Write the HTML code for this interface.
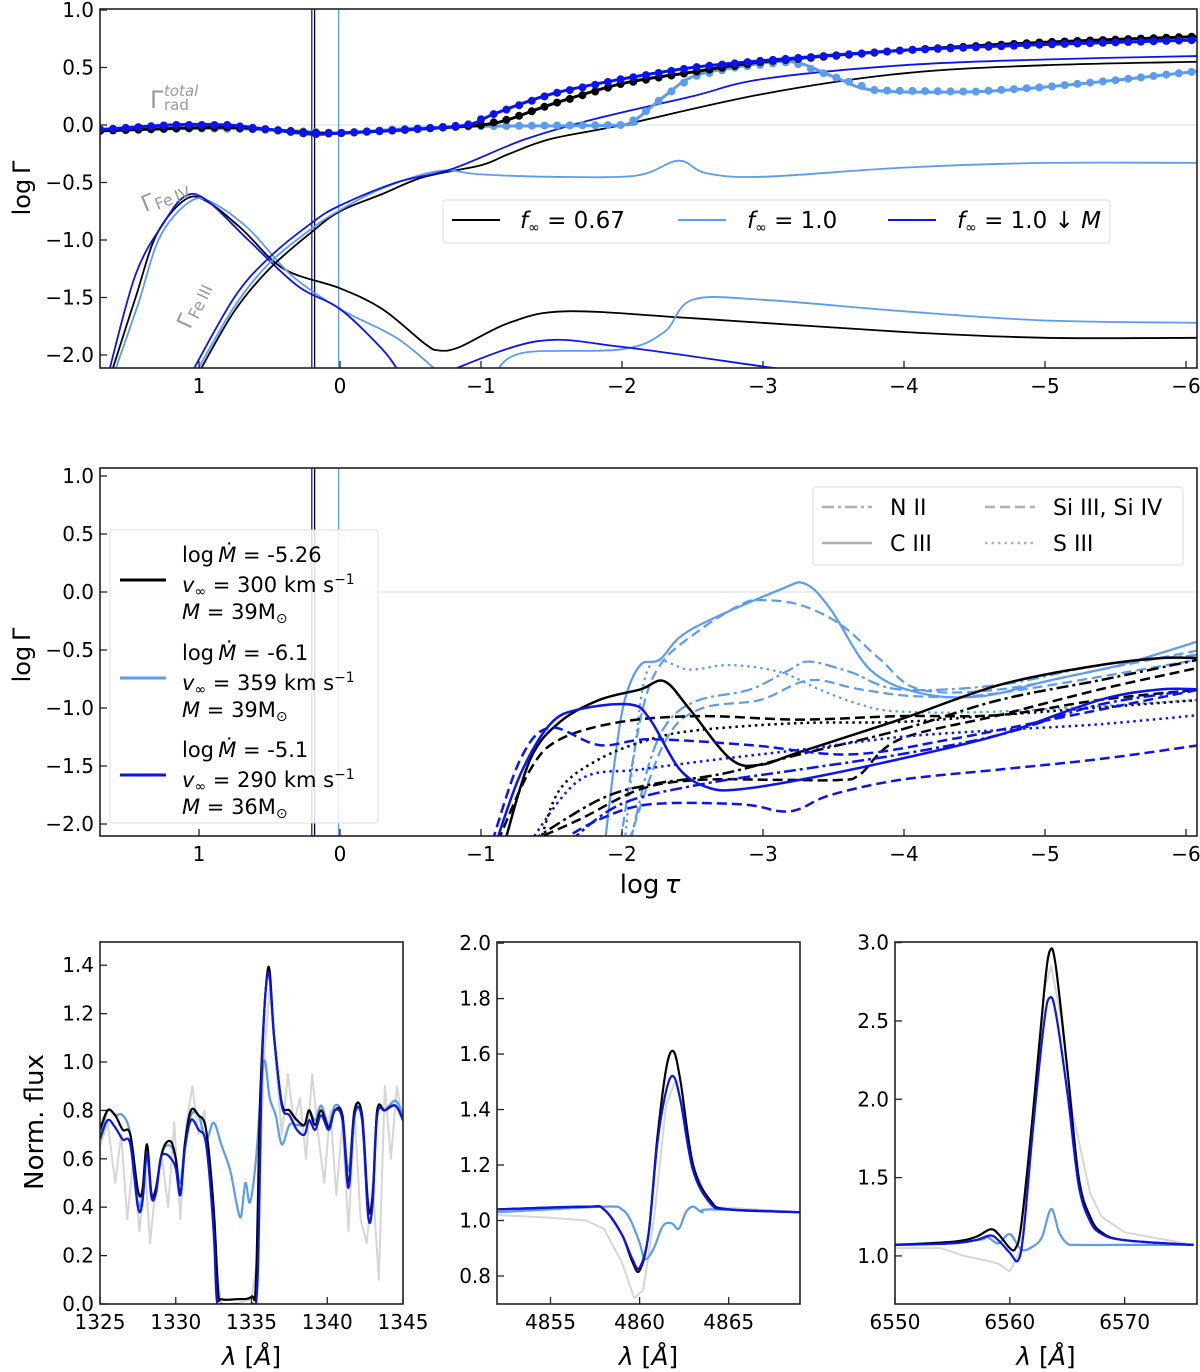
<!DOCTYPE html>
<html><head><meta charset="utf-8"><style>
html,body{margin:0;padding:0;background:#fff}
svg{display:block;font-family:"DejaVu Sans","Liberation Sans",sans-serif}
</style></head><body>
<svg id="fig" width="1200" height="1372" viewBox="0 0 1200 1372" xmlns="http://www.w3.org/2000/svg">
<defs>
<clipPath id="cTop"><rect x="100" y="9" width="1097" height="359"/></clipPath>
<clipPath id="cMid"><rect x="100" y="468" width="1097" height="368"/></clipPath>
<clipPath id="cB1"><rect x="100" y="942" width="303" height="362"/></clipPath>
<clipPath id="cB2"><rect x="497" y="942" width="303" height="362"/></clipPath>
<clipPath id="cB3"><rect x="895" y="942" width="302" height="362"/></clipPath>
</defs>
<g id="layer"></g>
</svg>
<script>
// ---------- data: top panel (log tau, log Gamma) ----------
const tauTicks = [1,0,-1,-2,-3,-4,-5,-6];
const gammaTicks = [1.0,0.5,0.0,-0.5,-1.0,-1.5,-2.0];
const totBlack = [[1.7,-0.05],[1.2,-0.03],[0.8,-0.02],[0.5,-0.04],[0.2,-0.07],[0,-0.07],[-0.5,-0.04],[-1,0.0],[-1.2,0.05],[-1.5,0.18],[-2,0.36],[-2.5,0.46],[-3,0.55],[-4,0.65],[-5,0.72],[-6.1,0.77]];
const totBlue = [[1.7,-0.04],[1.2,0.0],[0.8,0.0],[0.5,-0.04],[0.2,-0.08],[0,-0.07],[-0.5,-0.04],[-0.9,0.0],[-1.1,0.1],[-1.5,0.27],[-2,0.4],[-2.5,0.5],[-3,0.56],[-4,0.65],[-5,0.7],[-6.1,0.74]];
const totLight = [[1.7,-0.05],[1,-0.03],[0.5,-0.04],[0.2,-0.06],[0,-0.07],[-0.5,-0.03],[-1,-0.01],[-2,0.0],[-2.1,0.05],[-2.3,0.25],[-2.5,0.42],[-2.8,0.5],[-3.2,0.55],[-3.5,0.42],[-3.8,0.3],[-4.5,0.29],[-5,0.33],[-5.5,0.39],[-6.1,0.47]];
const fe4Black = [[1.62,-2.15],[1.45,-1.5],[1.3,-0.95],[1.1,-0.65],[0.95,-0.66],[0.7,-0.9],[0.4,-1.25],[0.0,-1.42],[-0.3,-1.6],[-0.6,-1.9],[-0.7,-1.96],[-0.85,-1.93],[-1.2,-1.72],[-1.6,-1.62],[-2.5,-1.68],[-4,-1.8],[-5,-1.85],[-6.1,-1.85]];
const fe4Light = [[1.6,-2.15],[1.43,-1.55],[1.28,-0.98],[1.08,-0.68],[0.93,-0.66],[0.65,-0.9],[0.35,-1.3],[0.0,-1.6],[-0.4,-1.85],[-0.7,-2.15]];
const fe4Light2 = [[-1.1,-2.15],[-1.3,-1.98],[-2.0,-1.95],[-2.3,-1.8],[-2.5,-1.52],[-3,-1.52],[-4,-1.62],[-5,-1.7],[-6.1,-1.72]];
const fe4Blue = [[1.64,-2.15],[1.45,-1.3],[1.25,-0.85],[1.1,-0.62],[0.95,-0.65],[0.65,-1.0],[0.3,-1.4],[0,-1.6],[-0.3,-1.95],[-0.42,-2.15]];
const fe4Blue2 = [[-0.75,-2.15],[-1.4,-1.88],[-2,-1.93],[-3,-2.1],[-3.3,-2.15]];
const fe3Black = [[1.0,-2.15],[0.75,-1.62],[0.5,-1.25],[0.2,-0.93],[0,-0.75],[-0.3,-0.6],[-0.6,-0.45],[-1,-0.35],[-1.2,-0.25],[-1.5,-0.12],[-2,0.0],[-3,0.27],[-4,0.45],[-5,0.52],[-6.1,0.55]];
const fe3Blue = [[1.05,-2.15],[0.75,-1.5],[0.5,-1.15],[0.2,-0.85],[0,-0.7],[-0.4,-0.5],[-0.8,-0.38],[-1.3,-0.13],[-1.8,0.05],[-2.5,0.25],[-3,0.4],[-4,0.52],[-5,0.57],[-6.1,0.6]];
const fe3Light = [[1.02,-2.15],[0.75,-1.58],[0.5,-1.2],[0.2,-0.9],[0,-0.74],[-0.3,-0.55],[-0.7,-0.4],[-1,-0.43],[-1.5,-0.45],[-2.1,-0.44],[-2.4,-0.31],[-2.6,-0.42],[-3,-0.45],[-4,-0.37],[-5,-0.33],[-6.1,-0.33]];
const vlineTau = [0.2, 0.18, 0.01];
// ---------- data: middle panel ----------
const lbC = [[-1.88,-2.15],[-1.95,-1.44],[-2.02,-0.93],[-2.13,-0.63],[-2.27,-0.58],[-2.48,-0.33],[-3.12,0.02],[-3.30,0.07],[-3.48,-0.15],[-3.76,-0.67],[-4.11,-0.87],[-4.54,-0.9],[-5.04,-0.76],[-5.53,-0.63],[-6.1,-0.42]];
const lbSi = [[-1.99,-2.15],[-2.13,-1.1],[-2.27,-0.63],[-2.55,-0.33],[-2.84,-0.11],[-2.98,-0.07],[-3.26,-0.11],[-3.55,-0.28],[-3.83,-0.58],[-4.11,-0.84],[-4.68,-0.84],[-5.39,-0.67],[-6.1,-0.5]];
const lbSi2 = [[-2.05,-2.15],[-2.3,-1.3],[-2.55,-1.01],[-2.98,-0.93],[-3.33,-0.76],[-3.69,-0.84],[-4.11,-0.9],[-4.68,-0.87],[-6.1,-0.58]];
const lbN = [[-2.06,-2.15],[-2.2,-1.45],[-2.34,-1.1],[-2.55,-0.93],[-2.91,-0.84],[-3.19,-0.67],[-3.33,-0.6],[-3.62,-0.69],[-3.97,-0.84],[-4.68,-0.8],[-5.39,-0.63],[-6.1,-0.54]];
const lbS = [[-2.02,-2.15],[-2.09,-1.36],[-2.2,-0.63],[-2.48,-0.67],[-2.77,-0.63],[-3.12,-0.69],[-3.4,-0.84],[-3.69,-0.97],[-3.97,-1.03],[-4.68,-1.03],[-6.1,-0.93]];
const bkC = [[-1.17,-2.15],[-1.35,-1.44],[-1.56,-1.12],[-1.84,-0.93],[-2.13,-0.84],[-2.3,-0.77],[-2.48,-1.01],[-2.77,-1.44],[-2.98,-1.49],[-3.26,-1.38],[-3.97,-1.1],[-4.68,-0.8],[-5.39,-0.63],[-5.82,-0.57],[-6.1,-0.57]];
const bkSi = [[-1.12,-2.15],[-1.35,-1.53],[-1.56,-1.27],[-1.99,-1.12],[-2.55,-1.07],[-3.26,-1.1],[-3.97,-1.07],[-4.68,-1.06],[-5.39,-0.93],[-6.1,-0.84]];
const bkSi2 = [[-1.35,-2.15],[-1.7,-1.96],[-2.13,-1.7],[-2.55,-1.62],[-3.12,-1.62],[-3.55,-1.62],[-3.69,-1.57],[-3.97,-1.27],[-4.68,-1.06],[-5.39,-0.84],[-6.1,-0.65]];
const bkN = [[-1.35,-2.15],[-1.84,-1.79],[-2.2,-1.66],[-2.7,-1.57],[-3.26,-1.4],[-3.97,-1.19],[-4.68,-0.93],[-5.39,-0.76],[-6.1,-0.58]];
const bkS = [[-1.42,-2.15],[-1.56,-1.7],[-1.84,-1.44],[-2.2,-1.27],[-2.55,-1.19],[-3.26,-1.13],[-3.97,-1.12],[-4.68,-1.06],[-6.1,-0.93]];
const blC = [[-1.11,-2.15],[-1.28,-1.57],[-1.49,-1.14],[-1.7,-1.01],[-2.06,-0.97],[-2.2,-1.1],[-2.41,-1.53],[-2.62,-1.69],[-2.84,-1.7],[-3.26,-1.62],[-3.97,-1.44],[-4.68,-1.23],[-5.39,-0.93],[-5.82,-0.84],[-6.1,-0.84]];
const blSi = [[-1.08,-2.15],[-1.28,-1.44],[-1.49,-1.17],[-1.84,-1.32],[-2.2,-1.27],[-2.91,-1.32],[-3.62,-1.4],[-4.33,-1.27],[-5.04,-1.1],[-6.1,-0.84]];
const blSi2 = [[-1.56,-2.15],[-1.84,-1.96],[-2.2,-1.83],[-2.84,-1.83],[-3.12,-1.89],[-3.26,-1.87],[-3.48,-1.75],[-3.97,-1.62],[-4.68,-1.53],[-5.39,-1.44],[-6.1,-1.32]];
const blN = [[-1.63,-2.15],[-1.99,-1.83],[-2.55,-1.66],[-3.26,-1.53],[-3.97,-1.4],[-4.68,-1.23],[-5.39,-0.97],[-6.1,-0.84]];
const blS = [[-1.35,-2.15],[-1.7,-1.62],[-2.13,-1.53],[-2.7,-1.44],[-3.26,-1.36],[-3.97,-1.25],[-4.68,-1.19],[-5.39,-1.14],[-6.1,-1.06]];
// ---------- data: bottom panels (lambda, flux) ----------
const uvTicksX = [1325,1330,1335,1340,1345];
const uvTicksY = [0.0,0.2,0.4,0.6,0.8,1.0,1.2,1.4];
const uvObs = [[1325,0.65],[1325.5,0.75],[1326,0.5],[1326.4,0.7],[1326.8,0.35],[1327.2,0.6],[1327.6,0.3],[1328,0.55],[1328.3,0.25],[1328.7,0.5],[1329.1,0.6],[1329.5,0.4],[1329.9,0.75],[1330.3,0.35],[1330.7,0.75],[1331.1,0.9],[1331.5,0.7],[1331.9,0.8],[1332.3,0.5],[1332.7,0.15],[1333,0.0],[1334,0.0],[1335,0.02],[1335.4,0.2],[1335.8,1.0],[1336.2,1.3],[1336.6,1.0],[1337,0.7],[1337.4,0.95],[1337.8,0.75],[1338.2,0.85],[1338.6,0.6],[1339,0.95],[1339.4,0.7],[1339.8,0.5],[1340.2,0.8],[1340.6,0.45],[1341,0.75],[1341.4,0.3],[1341.8,0.8],[1342.2,0.35],[1342.6,0.25],[1343,0.5],[1343.4,0.1],[1343.8,0.9],[1344.2,0.6],[1344.6,0.9],[1345,0.75]];
const uvBlack = [[1325,0.72],[1325.5,0.8],[1326,0.78],[1326.5,0.72],[1327,0.7],[1327.5,0.47],[1327.8,0.47],[1328.1,0.66],[1328.4,0.45],[1328.7,0.48],[1329,0.6],[1329.3,0.66],[1329.7,0.67],[1330,0.6],[1330.3,0.45],[1330.6,0.66],[1331,0.8],[1331.5,0.78],[1332,0.72],[1332.5,0.4],[1332.8,0.05],[1333,0.02],[1334,0.02],[1335,0.03],[1335.3,0.1],[1335.6,0.9],[1336.1,1.39],[1336.5,1.1],[1337,0.83],[1337.5,0.8],[1338,0.76],[1338.5,0.74],[1338.8,0.8],[1339.2,0.74],[1339.6,0.8],[1340.1,0.73],[1340.5,0.8],[1341,0.78],[1341.4,0.5],[1341.8,0.8],[1342.3,0.78],[1342.7,0.4],[1343,0.45],[1343.3,0.8],[1343.8,0.8],[1344.5,0.82],[1345,0.76]];
const uvBlue = [[1325,0.68],[1325.5,0.76],[1326,0.73],[1326.5,0.68],[1327,0.66],[1327.5,0.4],[1327.8,0.42],[1328.1,0.62],[1328.4,0.44],[1328.7,0.46],[1329,0.6],[1329.3,0.62],[1329.7,0.6],[1330,0.56],[1330.3,0.45],[1330.6,0.64],[1331,0.76],[1331.5,0.72],[1332,0.66],[1332.5,0.3],[1332.7,0.02],[1333,0.0],[1334,0.0],[1335,0.0],[1335.4,0.1],[1335.7,1.0],[1336.1,1.37],[1336.5,1.1],[1337,0.82],[1337.5,0.78],[1338,0.72],[1338.5,0.7],[1338.8,0.76],[1339.2,0.72],[1339.6,0.78],[1340.1,0.72],[1340.5,0.8],[1341,0.76],[1341.4,0.48],[1341.8,0.78],[1342.3,0.76],[1342.7,0.36],[1343,0.42],[1343.3,0.78],[1343.8,0.8],[1344.5,0.82],[1345,0.76]];
const uvLight = [[1325,0.68],[1325.5,0.8],[1326,0.78],[1326.5,0.78],[1327,0.7],[1327.5,0.42],[1327.8,0.45],[1328.1,0.62],[1328.4,0.46],[1328.7,0.48],[1329,0.6],[1329.3,0.65],[1329.7,0.65],[1330,0.6],[1330.3,0.5],[1330.6,0.65],[1331,0.78],[1331.5,0.78],[1332,0.68],[1332.5,0.75],[1333,0.66],[1333.6,0.55],[1334,0.42],[1334.3,0.36],[1334.6,0.5],[1334.9,0.42],[1335.3,0.6],[1335.8,1.0],[1336.2,0.85],[1336.6,0.78],[1337,0.66],[1337.5,0.74],[1338,0.74],[1338.5,0.74],[1338.8,0.8],[1339.2,0.76],[1339.6,0.82],[1340.1,0.74],[1340.5,0.82],[1341,0.78],[1341.4,0.55],[1341.8,0.8],[1342.3,0.76],[1342.7,0.42],[1343,0.45],[1343.3,0.8],[1343.8,0.8],[1344.5,0.84],[1345,0.78]];
const hbTicksX = [4855,4860,4865];
const hbTicksY = [0.8,1.0,1.2,1.4,1.6,1.8,2.0];
const hbObs = [[4852,1.02],[4855,1.01],[4857,1.0],[4858,0.97],[4859,0.85],[4859.7,0.72],[4860.2,0.75],[4860.8,1.0],[4861.5,1.42],[4862,1.5],[4862.5,1.4],[4863,1.2],[4864,1.05],[4869,1.03]];
const hbBlack = [[4852,1.04],[4857,1.05],[4858,1.04],[4859,0.95],[4859.6,0.85],[4860,0.82],[4860.5,0.95],[4861,1.3],[4861.5,1.55],[4861.9,1.61],[4862.3,1.5],[4863,1.2],[4864,1.07],[4865,1.04],[4869,1.03]];
const hbBlue = [[4852,1.04],[4857,1.05],[4858,1.04],[4859,0.95],[4859.6,0.86],[4860,0.83],[4860.5,0.95],[4861,1.28],[4861.5,1.47],[4861.9,1.52],[4862.3,1.43],[4863,1.18],[4864,1.06],[4865,1.04],[4869,1.03]];
const hbLight = [[4852,1.03],[4858,1.05],[4859,1.04],[4859.5,1.0],[4860,0.92],[4860.3,0.86],[4860.8,0.9],[4861.3,0.98],[4861.8,0.99],[4862.2,0.97],[4862.6,1.03],[4863,1.05],[4863.5,1.03],[4864,1.04],[4869,1.03]];
const haTicksX = [6550,6560,6570];
const haTicksY = [1.0,1.5,2.0,2.5,3.0];
const haObs = [[6550,1.05],[6554,1.05],[6556,1.0],[6558,0.97],[6559,0.95],[6560,0.9],[6561,1.05],[6562,1.8],[6563,2.7],[6563.6,2.85],[6564.5,2.5],[6565.5,1.9],[6567,1.4],[6568,1.25],[6570,1.15],[6576,1.07]];
const haBlack = [[6550,1.07],[6555,1.09],[6557,1.12],[6558.3,1.17],[6559,1.14],[6560,1.05],[6560.5,1.05],[6561,1.2],[6562,1.9],[6563,2.7],[6563.5,2.95],[6564,2.85],[6565,2.2],[6566,1.5],[6567,1.25],[6568,1.15],[6570,1.1],[6576,1.07]];
const haBlue = [[6550,1.07],[6555,1.08],[6557,1.1],[6558.3,1.13],[6559,1.1],[6560,1.02],[6560.7,0.97],[6561.2,1.15],[6562,1.8],[6563,2.5],[6563.5,2.65],[6564,2.55],[6565,2.05],[6566,1.45],[6567,1.22],[6568,1.14],[6570,1.1],[6576,1.07]];
const haLight = [[6550,1.07],[6557,1.1],[6558,1.12],[6559,1.08],[6560,1.14],[6561,1.04],[6562,1.06],[6562.8,1.12],[6563.6,1.3],[6564.3,1.15],[6565,1.08],[6566,1.07],[6570,1.07],[6576,1.07]];

// ---------- drawing ----------
const NS = "http://www.w3.org/2000/svg";
const layer = document.getElementById('layer');
const BLACK = "#000", LIGHT = "#5b9bf0", BLUE = "#0a14f0", GRAY = "#d6d6d6";
function mk(tag, attrs, parent) {
  const e = document.createElementNS(NS, tag);
  for (const k in attrs) e.setAttribute(k, attrs[k]);
  (parent || layer).appendChild(e);
  return e;
}
function lin(d0, d1, p0, p1) { return v => p0 + (v - d0) * (p1 - p0) / (d1 - d0); }
const tx = lin(0, -1, 340, 481);
const topY = lin(0, 1, 125, 10);
const midY = lin(0, 1, 592, 476);
function pathD(pts, sx, sy, smooth) {
  const P = pts.map(p => [sx(p[0]), sy(p[1])]);
  if (!smooth) return P.map((p, i) => (i ? 'L' : 'M') + p[0].toFixed(1) + ' ' + p[1].toFixed(1)).join(' ');
  let d = 'M' + P[0][0].toFixed(1) + ' ' + P[0][1].toFixed(1);
  for (let i = 0; i < P.length - 1; i++) {
    const p0 = P[Math.max(0, i - 1)], p1 = P[i], p2 = P[i + 1], p3 = P[Math.min(P.length - 1, i + 2)];
    const c1 = [p1[0] + (p2[0] - p0[0]) / 6, p1[1] + (p2[1] - p0[1]) / 6];
    const c2 = [p2[0] - (p3[0] - p1[0]) / 6, p2[1] - (p3[1] - p1[1]) / 6];
    d += ' C' + c1[0].toFixed(1) + ' ' + c1[1].toFixed(1) + ' ' + c2[0].toFixed(1) + ' ' + c2[1].toFixed(1) + ' ' + p2[0].toFixed(1) + ' ' + p2[1].toFixed(1);
  }
  return d;
}
function series(g, pts, sx, sy, color, w, dash, name, raw) {
  const p = mk('path', {d: pathD(pts, sx, sy, !raw), fill: 'none', stroke: color, 'stroke-width': w, 'stroke-linejoin': 'round'}, g);
  if (dash) p.setAttribute('stroke-dasharray', dash);
  
  
  return p;
}
function interp(pts, x) {
  for (let i = 0; i < pts.length - 1; i++) {
    const a = pts[i], b = pts[i + 1];
    if ((x <= a[0] && x >= b[0]) || (x >= a[0] && x <= b[0])) return a[1] + (x - a[0]) * (b[1] - a[1]) / (b[0] - a[0]);
  }
  return null;
}
function markers(g, pts, color, name) {
  for (let t = 1.7; t >= -6.1; t -= 0.09) {
    const v = interp(pts, t); if (v === null) continue;
    const c = mk('circle', {cx: tx(t).toFixed(1), cy: topY(v).toFixed(1), r: 4, fill: color}, g);
    
    
  }
}
function text(x, y, s, opts, parent) {
  const t = mk('text', Object.assign({x, y, 'font-size': 20, fill: '#000'}, opts || {}), parent);
  t.innerHTML = s;
  return t;
}
function frame(x0, y0, x1, y1, name) {
  const r = mk('rect', {x: x0, y: y0, width: x1 - x0, height: y1 - y0, fill: 'none', stroke: '#222', 'stroke-width': 1.6});
  
  
}
function yTicks(vals, sy, x0, fmt, name) {
  const g = mk('g', {});
  
  
  vals.forEach(v => {
    const y = sy(v);
    mk('line', {x1: x0, x2: x0 + 7, y1: y, y2: y, stroke: '#222', 'stroke-width': 1.3}, g);
    text(x0 - 6, y + 7, fmt(v), {'text-anchor': 'end'}, g);
  });
}
function xTicks(vals, sx, y0, fmt, name) {
  const g = mk('g', {});
  
  
  vals.forEach(v => {
    const x = sx(v);
    mk('line', {x1: x, x2: x, y1: y0, y2: y0 - 7, stroke: '#222', 'stroke-width': 1.3}, g);
    text(x, y0 + 25, fmt(v), {'text-anchor': 'middle'}, g);
  });
}
const minus = v => (v < 0 ? '\u2212' : '') + Math.abs(v);
const f1 = v => (v < 0 ? '\u2212' : '') + Math.abs(v).toFixed(1);

// ===== TOP PANEL =====
const gTop = mk('g', {'clip-path': 'url(#cTop)'});


mk('line', {x1: 100, x2: 1197, y1: topY(0), y2: topY(0), stroke: '#ddd', 'stroke-width': 1}, gTop);
[[vlineTau[0], BLUE], [vlineTau[1], BLACK], [vlineTau[2], LIGHT]].forEach(([t, c]) => mk('line', {x1: tx(t), x2: tx(t), y1: 9, y2: 368, stroke: c, 'stroke-width': 1.3}, gTop));
series(gTop, fe4Black, tx, topY, BLACK, 1.8, null, 'fe-iv-black');
series(gTop, fe4Light, tx, topY, LIGHT, 1.8, null, 'fe-iv-light');
series(gTop, fe4Light2, tx, topY, LIGHT, 1.8, null, 'fe-iv-light-outer');
series(gTop, fe4Blue, tx, topY, BLUE, 1.8, null, 'fe-iv-blue');
series(gTop, fe4Blue2, tx, topY, BLUE, 1.8, null, 'fe-iv-blue-outer');
series(gTop, fe3Black, tx, topY, BLACK, 1.8, null, 'fe-iii-black');
series(gTop, fe3Light, tx, topY, LIGHT, 1.8, null, 'fe-iii-light');
series(gTop, fe3Blue, tx, topY, BLUE, 1.8, null, 'fe-iii-blue');
series(gTop, totLight, tx, topY, LIGHT, 3, null, 'total-light');
markers(gTop, totLight, LIGHT, 'total-light-marker');
series(gTop, totBlack, tx, topY, BLACK, 3, null, 'total-black');
markers(gTop, totBlack, BLACK, 'total-black-marker');
series(gTop, totBlue, tx, topY, BLUE, 3, null, 'total-blue');
markers(gTop, totBlue, BLUE, 'total-blue-marker');
frame(100, 9, 1197, 368, 'top-panel-frame');
yTicks(gammaTicks, topY, 100, f1, 'top-y-ticks');
xTicks(tauTicks, tx, 368, minus, 'top-x-ticks');
text(30, 188, 'log\u2009\u0393', {'font-size': 24, transform: 'rotate(-90 30 188)', 'text-anchor': 'middle',  });
text(150, 108, '\u0393', {'font-size': 24, fill: '#999',  });
text(164, 96, 'total', {'font-size': 15, fill: '#999', 'font-style': 'italic'});
text(164, 110, 'rad', {'font-size': 15, fill: '#999'});
text(145, 212, '\u0393<tspan font-size="16" dy="3">Fe\u2009IV</tspan>', {'font-size': 22, fill: '#999', transform: 'rotate(-22 145 212)',  });
text(190, 330, '\u0393<tspan font-size="16" dy="3">Fe\u2009III</tspan>', {'font-size': 22, fill: '#999', transform: 'rotate(-65 190 330)',  });
// top legend
const lg = mk('g', {});


mk('rect', {x: 443, y: 200, width: 667, height: 43, rx: 3, fill: '#fff', 'fill-opacity': 0.85, stroke: '#ddd'}, lg);
[[452, 520, BLACK, '<tspan font-style="italic">f</tspan><tspan font-size="14" dy="4">\u221e</tspan><tspan dy="-4"> = 0.67</tspan>'],
 [678, 747, LIGHT, '<tspan font-style="italic">f</tspan><tspan font-size="14" dy="4">\u221e</tspan><tspan dy="-4"> = 1.0</tspan>'],
 [888, 957, BLUE, '<tspan font-style="italic">f</tspan><tspan font-size="14" dy="4">\u221e</tspan><tspan dy="-4"> = 1.0 \u2193 </tspan><tspan font-style="italic">M</tspan>']].forEach(([lx, tx2, c, s]) => {
  mk('line', {x1: lx, x2: lx + 48, y1: 220, y2: 220, stroke: c, 'stroke-width': 2}, lg);
  text(tx2, 228, s, {'font-size': 23}, lg);
});

// ===== MIDDLE PANEL =====
const gMid = mk('g', {'clip-path': 'url(#cMid)'});


mk('line', {x1: 100, x2: 1197, y1: midY(0), y2: midY(0), stroke: '#ddd', 'stroke-width': 1}, gMid);
[[vlineTau[0], BLUE], [vlineTau[1], BLACK], [vlineTau[2], LIGHT]].forEach(([t, c]) => mk('line', {x1: tx(t), x2: tx(t), y1: 468, y2: 836, stroke: c, 'stroke-width': 1.3}, gMid));
const DD = '10 5', DA = '12 4 3 4', DT = '2.5 4';
series(gMid, lbC, tx, midY, LIGHT, 2.2, null, 'c-iii-light');
series(gMid, lbSi, tx, midY, LIGHT, 2.2, DD, 'si-light');
series(gMid, lbSi2, tx, midY, LIGHT, 2.2, DD, 'si-light-2');
series(gMid, lbN, tx, midY, LIGHT, 2.2, DA, 'n-ii-light');
series(gMid, lbS, tx, midY, LIGHT, 2.2, DT, 's-iii-light');
series(gMid, bkC, tx, midY, BLACK, 2.5, null, 'c-iii-black');
series(gMid, bkSi, tx, midY, BLACK, 2.5, DD, 'si-black');
series(gMid, bkSi2, tx, midY, BLACK, 2.5, DD, 'si-black-2');
series(gMid, bkN, tx, midY, BLACK, 2.5, DA, 'n-ii-black');
series(gMid, bkS, tx, midY, BLACK, 2.5, DT, 's-iii-black');
series(gMid, blC, tx, midY, BLUE, 2.5, null, 'c-iii-blue');
series(gMid, blSi, tx, midY, BLUE, 2.5, DD, 'si-blue');
series(gMid, blSi2, tx, midY, BLUE, 2.5, DD, 'si-blue-2');
series(gMid, blN, tx, midY, BLUE, 2.5, DA, 'n-ii-blue');
series(gMid, blS, tx, midY, BLUE, 2.5, DT, 's-iii-blue');
frame(100, 468, 1197, 836, 'middle-panel-frame');
yTicks(gammaTicks, midY, 100, f1, 'middle-y-ticks');
xTicks(tauTicks, tx, 836, minus, 'middle-x-ticks');
text(30, 655, 'log\u2009\u0393', {'font-size': 24, transform: 'rotate(-90 30 655)', 'text-anchor': 'middle',  });
text(650, 893, 'log\u2009<tspan font-style="italic">\u03c4</tspan>', {'font-size': 26, 'text-anchor': 'middle',  });
// species legend
const sl = mk('g', {});


mk('rect', {x: 813, y: 487, width: 370, height: 78, rx: 3, fill: '#fff', 'fill-opacity': 0.85, stroke: '#ddd'}, sl);
[[822, 507, DA, 'N II'], [822, 543, null, 'C III'], [985, 507, DD, 'Si III, Si IV'], [985, 543, DT, 'S III']].forEach(([lx, ly, d, s]) => {
  const l = mk('line', {x1: lx, x2: lx + 50, y1: ly, y2: ly, stroke: '#b0b0b0', 'stroke-width': 2.5}, sl);
  if (d) l.setAttribute('stroke-dasharray', d);
  text(lx + 68, ly + 8, s, {'font-size': 22}, sl);
});
// model legend
const ml = mk('g', {});


mk('rect', {x: 110, y: 530, width: 268, height: 293, rx: 3, fill: '#fff', 'fill-opacity': 0.85, stroke: '#ddd'}, ml);
[[580, BLACK, '-5.26', '300', '39'], [678, LIGHT, '-6.1', '359', '39'], [775, BLUE, '-5.1', '290', '36']].forEach(([ly, c, md, v, m]) => {
  mk('line', {x1: 120, x2: 166, y1: ly, y2: ly, stroke: c, 'stroke-width': 3}, ml);
  text(182, ly - 18, 'log\u2009<tspan font-style="italic">\u1e40</tspan> =  ' + md, {'font-size': 21}, ml);
  text(182, ly + 12, '<tspan font-style="italic">v</tspan><tspan font-size="14" dy="4">\u221e</tspan><tspan dy="-4"> =  ' + v + ' km s</tspan><tspan font-size="14" dy="-8">\u22121</tspan>', {'font-size': 21}, ml);
  text(182, ly + 39, '<tspan font-style="italic">M</tspan> = ' + m + 'M<tspan font-size="14" dy="4">\u2299</tspan>', {'font-size': 21}, ml);
});

// ===== BOTTOM PANELS =====
function spectrum(x0, x1, lam0, lam1, v0, v1, clip, obs, bk, lb, bl, ticksX, ticksY, fy, name) {
  const sx = lin(lam0, lam1, x0, x1), sy = lin(v0, v1, 1304, 942);
  const g = mk('g', {'clip-path': 'url(' + clip + ')'});
  
  
  series(g, obs, sx, sy, GRAY, 2, null, name + '-observed', true);
  series(g, lb, sx, sy, LIGHT, 2.2, null, name + '-model-light');
  series(g, bk, sx, sy, BLACK, 2.2, null, name + '-model-black');
  series(g, bl, sx, sy, BLUE, 2.2, null, name + '-model-blue');
  frame(x0, 942, x1, 1304, name + '-frame');
  yTicks(ticksY, sy, x0, fy, name + '-y-ticks');
  xTicks(ticksX, sx, 1304, v => String(v), name + '-x-ticks');
  text((x0 + x1) / 2, 1365, '<tspan font-style="italic">\u03bb</tspan> [<tspan font-style="italic">\u00c5</tspan>]', {'font-size': 25, 'text-anchor': 'middle',  });
}
spectrum(100, 403, 1325, 1345, 0, 1.496, '#cB1', uvObs, uvBlack, uvLight, uvBlue, uvTicksX, uvTicksY, v => v.toFixed(1), 'uv-panel');
spectrum(497, 800, 4852, 4869, 0.699, 2.004, '#cB2', hbObs, hbBlack, hbLight, hbBlue, hbTicksX, hbTicksY, v => v.toFixed(1), 'hbeta-panel');
spectrum(895, 1197, 6550, 6576.3, 0.693, 3.004, '#cB3', haObs, haBlack, haLight, haBlue, haTicksX, haTicksY, v => v.toFixed(1), 'halpha-panel');
text(43, 1122, 'Norm. flux', {'font-size': 26, transform: 'rotate(-90 43 1122)', 'text-anchor': 'middle',  });
</script>
</body></html>
